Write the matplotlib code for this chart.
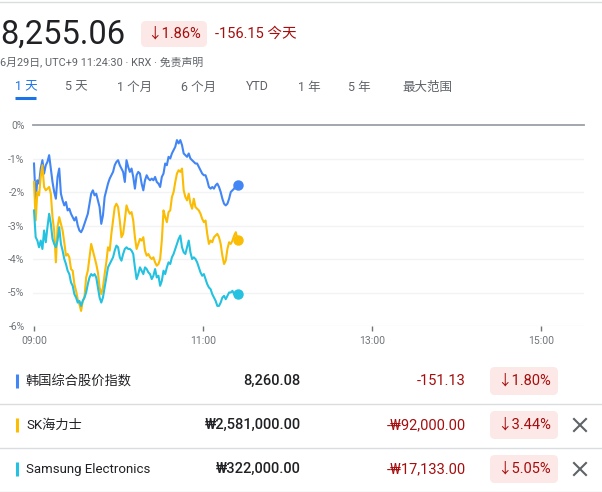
import matplotlib
matplotlib.use("Agg")
import matplotlib.pyplot as plt
from matplotlib.patches import FancyBboxPatch
import numpy as np

plt.rcParams['font.family'] = ['Roboto', 'Noto Sans', 'Noto Sans CJK SC', 'DejaVu Sans']

# intraday % change, sampled from 09:00 to 11:24:30
kospi_pct = [-1.15, -2.25, -1.65, -1.75, -1.30, -1.05, -1.45, -1.20, -1.10, -0.90, -1.30, -1.70,
             -2.00, -2.20, -1.55, -1.30, -2.05, -2.25, -2.40, -2.30, -2.55, -2.50, -2.65, -2.75,
             -2.85, -2.75, -3.00, -3.15, -3.20, -3.10, -2.95, -2.80, -2.65, -2.35, -2.05, -1.95,
             -2.10, -2.05, -2.25, -2.45, -2.95, -2.70, -2.15, -1.95, -1.75, -1.60, -1.50, -1.40,
             -1.20, -1.10, -1.05, -1.20, -1.30, -1.40, -1.70, -1.05, -1.25, -1.40, -1.30, -1.55,
             -1.90, -1.50, -1.40, -1.45, -1.75, -1.95, -1.65, -1.50, -1.60, -1.65, -1.60, -1.65,
             -1.55, -1.70, -1.75, -1.85, -1.55, -1.45, -1.15, -1.20, -0.95, -1.00, -0.85, -0.75,
             -0.65, -0.45, -0.55, -0.45, -0.60, -0.85, -0.90, -0.95, -0.85, -1.00, -1.05, -1.10,
             -1.15, -1.15, -1.25, -1.35, -1.45, -1.50, -1.50, -1.65, -1.85, -1.90, -1.85, -1.90,
             -1.80, -1.75, -1.85, -2.00, -2.20, -2.35, -2.40, -2.35, -2.20, -2.00, -1.95, -1.90,
             -1.80, -1.80]
skhynix_pct = [-1.70, -2.85, -2.00, -2.10, -1.55, -1.20, -1.85, -1.95, -1.90, -1.85, -2.05, -2.75,
               -3.15, -4.10, -3.05, -2.75, -2.95, -3.15, -3.50, -3.90, -3.85, -3.95, -4.30, -4.35,
               -4.75, -4.95, -5.20, -5.35, -5.55, -5.25, -5.15, -4.55, -4.35, -3.95, -3.55, -3.75,
               -3.95, -4.15, -4.40, -4.85, -5.05, -4.85, -4.45, -4.10, -3.65, -3.75, -3.25, -2.85,
               -2.45, -2.35, -2.45, -2.85, -3.35, -3.25, -2.85, -2.40, -2.55, -2.65, -2.60, -2.85,
               -3.35, -3.70, -3.55, -3.40, -3.45, -3.35, -3.75, -3.90, -3.85, -3.95, -4.00, -3.95,
               -4.10, -4.20, -4.15, -4.00, -3.45, -2.55, -2.75, -2.90, -2.60, -2.55, -2.15, -2.00,
               -1.70, -1.45, -1.35, -1.40, -1.30, -1.95, -2.15, -2.25, -2.05, -2.35, -2.50, -2.20,
               -2.45, -2.50, -2.55, -2.65, -2.80, -2.90, -2.85, -3.25, -3.55, -3.45, -3.50, -3.35,
               -3.30, -3.25, -3.35, -3.55, -3.90, -4.15, -4.05, -3.70, -3.50, -3.55, -3.45, -3.30,
               -3.20, -3.44]
samsung_pct = [-2.55, -3.35, -3.45, -3.65, -3.45, -3.70, -3.15, -3.50, -3.05, -2.65, -2.95, -3.40,
               -3.55, -3.65, -3.45, -3.05, -3.55, -3.75, -4.00, -4.15, -4.35, -4.45, -4.70, -4.80,
               -5.05, -5.15, -5.30, -5.25, -5.40, -5.25, -5.15, -5.00, -4.75, -4.55, -4.45, -4.50,
               -4.45, -4.55, -4.85, -5.15, -5.30, -5.15, -4.85, -4.55, -4.25, -4.15, -4.05, -3.95,
               -3.75, -3.60, -3.65, -3.95, -4.05, -3.85, -3.70, -3.65, -3.70, -3.70, -3.75, -3.85,
               -4.25, -4.60, -4.45, -4.25, -4.35, -4.45, -4.25, -4.30, -4.40, -4.45, -4.60, -4.50,
               -4.30, -4.55, -4.50, -4.80, -4.65, -4.35, -4.45, -4.25, -4.10, -4.15, -3.95, -3.85,
               -3.70, -3.55, -3.40, -3.30, -3.65, -3.80, -3.85, -3.65, -3.45, -3.80, -4.00, -3.95,
               -4.00, -4.10, -4.25, -4.40, -4.50, -4.45, -4.60, -4.75, -4.85, -4.90, -5.05, -5.15,
               -5.25, -5.40, -5.40, -5.30, -5.15, -5.10, -5.20, -5.10, -5.00, -5.00, -4.95, -5.05,
               -5.00, -5.05]

last_minute = 144.5  # 11:24:30
x_ticks = [0, 120, 240, 360]
x_labels = ["09:00", "11:00", "13:00", "15:00"]
y_ticks = [0, -1, -2, -3, -4, -5, -6]

tabs = ["1 天", "5 天", "1 个月", "6 个月", "YTD", "1 年", "5 年", "最大范围"]
tab_x = [15, 65, 117, 181, 246, 298, 348, 402]

names = ["韩国综合股价指数", "SK海力士", "Samsung Electronics"]
prices = ["8,260.08", "₩2,581,000.00", "₩322,000.00"]
changes = ["-151.13", "-₩92,000.00", "-₩17,133.00"]
pcts = ["↓1.80%", "↓3.44%", "↓5.05%"]
colors = ["#4285f4", "#fbbc04", "#24c1e0"]
series = [kospi_pct, skhynix_pct, samsung_pct]

W, H = 602, 492
fig = plt.figure(figsize=(W / 100, H / 100), dpi=100)
fig.patch.set_facecolor("white")

# background axes in pixel coordinates for header and table
bg = fig.add_axes([0, 0, 1, 1])
bg.set_xlim(0, W)
bg.set_ylim(H, 0)
bg.axis("off")

dark = "#202124"
grey = "#5f6368"
red = "#a50e0e"
badge = "#fce8e6"

bg.plot([0, W], [1.5, 1.5], color="#dadce0", lw=1)
bg.text(0, 35, "8,255.06", fontsize=23.5, color=dark, va="center", ha="left")
bg.add_patch(FancyBboxPatch((141, 21), 66, 26, boxstyle="round,pad=0,rounding_size=5",
                            fc=badge, ec="none"))
bg.text(174, 34, "↓1.86%", fontsize=10.5, color=red, ha="center", va="center")
bg.text(215, 34, "-156.15 今天", fontsize=10.5, color=red, ha="left", va="center")
bg.text(0, 62, "6月29日, UTC+9 11:24:30 · KRX · 免责声明", fontsize=7.8, color=grey,
        ha="left", va="center")

for i, (t, tx) in enumerate(zip(tabs, tab_x)):
    bg.text(tx, 87, t, fontsize=9, color="#1a73e8" if i == 0 else grey, ha="left", va="center")
bg.plot([15, 36], [98, 98], color="#1a73e8", lw=2.2, solid_capstyle="butt")

# table rows
row_y = [381, 425, 469]
for i in range(3):
    y = row_y[i]
    bg.plot([17, 17], [y - 7, y + 7], color=colors[i], lw=2.2, solid_capstyle="butt")
    bg.text(26, y, names[i], fontsize=9.5, color=dark, ha="left", va="center")
    bg.text(301, y, prices[i], fontsize=10.5, color=dark, ha="right", va="center",
            fontweight="medium")
    bg.text(466, y, changes[i], fontsize=10.5, color=red, ha="right", va="center")
    bg.add_patch(FancyBboxPatch((490, y - 14), 68, 28, boxstyle="round,pad=0,rounding_size=5",
                                fc=badge, ec="none"))
    bg.text(524, y, pcts[i], fontsize=10.5, color=red, ha="center", va="center")
    if i > 0:
        bg.plot([574, 586], [y - 6, y + 6], color=grey, lw=1.5)
        bg.plot([574, 586], [y + 6, y - 6], color=grey, lw=1.5)
    bg.plot([0, W], [y + 22.5, y + 22.5], color="#dadce0", lw=1)

# chart axes: 09:00 at x=34, 0% at y=125, -6% at y=326
px_per_min = 84.5 / 60
x0_px, x1_px = 33, 584
xmin = -(34 - x0_px) / px_per_min
xmax = (x1_px - 34) / px_per_min
ax = fig.add_axes([x0_px / W, 1 - 326 / H, (x1_px - x0_px) / W, (326 - 125) / H])
ax.set_xlim(xmin, xmax)
ax.set_ylim(-6, 0)
ax.patch.set_alpha(0)
for s in ax.spines.values():
    s.set_visible(False)

for v in y_ticks[1:]:
    ax.axhline(v, color="#f1f3f4", lw=1, zorder=0)
ax.axhline(0, color="#9aa0a6", lw=1.3, zorder=1, clip_on=False)

for vals, c in zip(series, colors):
    t = np.linspace(0, last_minute, len(vals))
    ax.plot(t, vals, color=c, lw=1.5, zorder=3, clip_on=False, solid_joinstyle="round")
    ax.plot(t[-1], vals[-1], "o", color=c, ms=6.5, zorder=4, clip_on=False)

ax.set_yticks(y_ticks)
ax.set_yticklabels([f"{v}%" for v in y_ticks], fontsize=7.5, color="#70757a")
ax.tick_params(axis="y", length=0, pad=6)
ax.set_xticks(x_ticks)
ax.set_xticklabels(x_labels, fontsize=7.5, color="#70757a")
ax.tick_params(axis="x", length=3.5, width=1, color="#70757a", pad=4, direction="out")

fig.savefig("out.png", dpi=100)
